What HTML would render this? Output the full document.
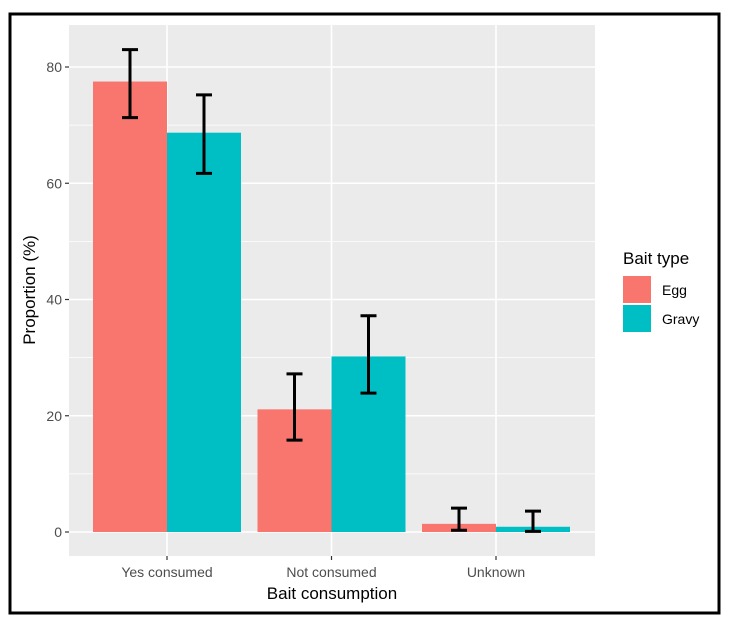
<!DOCTYPE html>
<html><head><meta charset="utf-8"><style>
body{margin:0;background:#fff;}
svg{display:block;font-family:"Liberation Sans",Arial,sans-serif;}
</style></head><body>
<svg width="730" height="631">
<rect x="10" y="14" width="709" height="599" fill="#fff" stroke="#000" stroke-width="3"/>
<g id="chart"></g>
</svg>
<script>
const categories=["Yes consumed","Not consumed","Unknown"];
const series=["Egg","Gravy"];
const eggValues=[77.5,21.1,1.4];
const eggLow=[71.3,15.8,0.3];
const eggHigh=[83.0,27.2,4.1];
const gravyValues=[68.7,30.2,0.9];
const gravyLow=[61.7,23.9,0.1];
const gravyHigh=[75.2,37.2,3.6];
const yTicks=[0,20,40,60,80];
const colors=["#F8766D","#00BFC4"];

const P={l:69,r:595,t:25,b:556};
const y=v=>532-v*(465/80);
const step=164.5;
const x=i=>167+i*step;
const bw=74;
const NS="http://www.w3.org/2000/svg";
const g=document.getElementById('chart');
function mk(t,a,parent){const e=document.createElementNS(NS,t);for(const k in a)e.setAttribute(k,a[k]);(parent||g).appendChild(e);return e;}

const panel=mk('rect',{x:P.l,y:P.t,width:P.r-P.l,height:P.b-P.t,fill:'#EBEBEB'});


// minor grid
for(let i=0;i<yTicks.length-1;i++){const v=(yTicks[i]+yTicks[i+1])/2;const l=mk('line',{x1:P.l,x2:P.r,y1:y(v),y2:y(v),stroke:'#fff','stroke-width':0.8});

}
yTicks.forEach(v=>{const l=mk('line',{x1:P.l,x2:P.r,y1:y(v),y2:y(v),stroke:'#fff','stroke-width':1.6});


const tk=mk('line',{x1:P.l-4,x2:P.l,y1:y(v),y2:y(v),stroke:'#333','stroke-width':1.2});


const t=mk('text',{x:P.l-7,y:y(v)+5,'text-anchor':'end','font-size':14,fill:'#4D4D4D'});t.textContent=v;

});
categories.forEach((c,i)=>{const l=mk('line',{x1:x(i),x2:x(i),y1:P.t,y2:P.b,stroke:'#fff','stroke-width':1.6});


const tk=mk('line',{x1:x(i),x2:x(i),y1:P.b,y2:P.b+4,stroke:'#333','stroke-width':1.2});


const t=mk('text',{x:x(i),y:577,'text-anchor':'middle','font-size':14,fill:'#4D4D4D'});t.textContent=c;

});
const all=[[eggValues,eggLow,eggHigh],[gravyValues,gravyLow,gravyHigh]];
all.forEach((s,si)=>{categories.forEach((c,i)=>{
const x0=x(i)-bw+si*bw;
const b=mk('rect',{x:x0,y:y(s[0][i]),width:bw,height:y(0)-y(s[0][i]),fill:colors[si]});


const cx=x0+bw/2,hw=8;
const e=mk('path',{d:`M${cx-hw},${y(s[2][i])}H${cx+hw}M${cx},${y(s[2][i])}V${y(s[1][i])}M${cx-hw},${y(s[1][i])}H${cx+hw}`,stroke:'#000','stroke-width':3,fill:'none'});


});});
const xt=mk('text',{x:332,y:599,'text-anchor':'middle','font-size':17,fill:'#000'});xt.textContent='Bait consumption';


const yt=mk('text',{x:0,y:0,'text-anchor':'middle','font-size':17,fill:'#000',transform:'translate(35,290) rotate(-90)'});yt.textContent='Proportion (%)';


const lt=mk('text',{x:623,y:264,'font-size':17,fill:'#000'});lt.textContent='Bait type';


series.forEach((s,i)=>{const r=mk('rect',{x:623,y:276+i*29,width:28,height:27,fill:colors[i]});


const t=mk('text',{x:662,y:295+i*29,'font-size':14,fill:'#000'});t.textContent=s;

});
</script>
</body></html>
